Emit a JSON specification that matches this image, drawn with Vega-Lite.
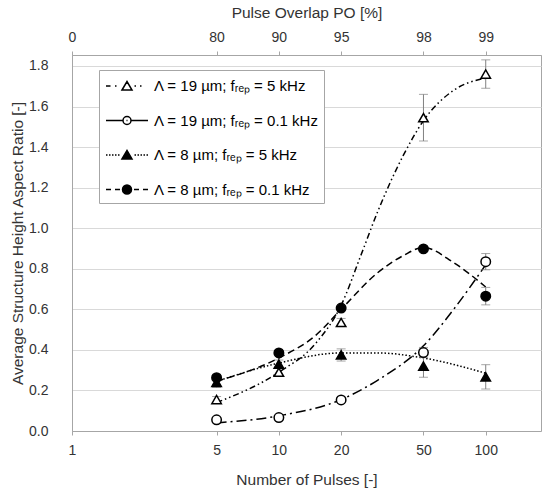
{
  "$schema": "https://vega.github.io/schema/vega-lite/v6.json",
  "width": 469,
  "height": 376,
  "autosize": {"type": "none"},
  "padding": {"left": 72, "top": 55, "right": 9, "bottom": 63},
  "background": "white",
  "config": {
    "font": "Liberation Sans",
    "view": {"stroke": "#a6a6a6", "strokeWidth": 1},
    "axis": {
      "labelFont": "Liberation Sans",
      "titleFont": "Liberation Sans",
      "labelFontSize": 14,
      "titleFontSize": 15.5,
      "titleFontWeight": "normal",
      "labelColor": "#333333",
      "titleColor": "#333333",
      "domainColor": "#a6a6a6",
      "tickColor": "#a6a6a6",
      "gridColor": "#d9d9d9"
    },
    "legend": {
      "title": null,
      "orient": "none",
      "legendX": 27,
      "legendY": 15,
      "padding": 5,
      "strokeColor": "#a6a6a6",
      "fillColor": "white",
      "symbolSize": 400,
      "symbolStrokeWidth": 1.5,
      "symbolStrokeColor": "black",
      "symbolOffset": 12,
      "labelOffset": 16,
      "labelFont": "Liberation Sans",
      "labelFontSize": 15,
      "labelColor": "black",
      "labelLimit": 300,
      "rowPadding": 15.5
    }
  },
  "datasets": {
    "points": [
      {"series": "Λ = 19 µm; fᵣₑₚ = 5 kHz", "N": 5, "v": 0.155, "err": 0.015},
      {"series": "Λ = 19 µm; fᵣₑₚ = 5 kHz", "N": 10, "v": 0.29, "err": 0.02},
      {"series": "Λ = 19 µm; fᵣₑₚ = 5 kHz", "N": 20, "v": 0.535, "err": 0.02},
      {"series": "Λ = 19 µm; fᵣₑₚ = 5 kHz", "N": 50, "v": 1.545, "err": 0.115},
      {"series": "Λ = 19 µm; fᵣₑₚ = 5 kHz", "N": 100, "v": 1.76, "err": 0.07},
      {"series": "Λ = 19 µm; fᵣₑₚ = 0.1 kHz", "N": 5, "v": 0.055, "err": 0.01},
      {"series": "Λ = 19 µm; fᵣₑₚ = 0.1 kHz", "N": 10, "v": 0.066, "err": 0.01},
      {"series": "Λ = 19 µm; fᵣₑₚ = 0.1 kHz", "N": 20, "v": 0.153, "err": 0.01},
      {"series": "Λ = 19 µm; fᵣₑₚ = 0.1 kHz", "N": 50, "v": 0.387, "err": 0.025},
      {"series": "Λ = 19 µm; fᵣₑₚ = 0.1 kHz", "N": 100, "v": 0.835, "err": 0.04},
      {"series": "Λ = 8 µm; fᵣₑₚ = 5 kHz", "N": 5, "v": 0.24, "err": 0.025},
      {"series": "Λ = 8 µm; fᵣₑₚ = 5 kHz", "N": 10, "v": 0.33, "err": 0.02},
      {"series": "Λ = 8 µm; fᵣₑₚ = 5 kHz", "N": 20, "v": 0.375, "err": 0.03},
      {"series": "Λ = 8 µm; fᵣₑₚ = 5 kHz", "N": 50, "v": 0.32, "err": 0.055},
      {"series": "Λ = 8 µm; fᵣₑₚ = 5 kHz", "N": 100, "v": 0.267, "err": 0.06},
      {"series": "Λ = 8 µm; fᵣₑₚ = 0.1 kHz", "N": 5, "v": 0.263, "err": 0.01},
      {"series": "Λ = 8 µm; fᵣₑₚ = 0.1 kHz", "N": 10, "v": 0.385, "err": 0.01},
      {"series": "Λ = 8 µm; fᵣₑₚ = 0.1 kHz", "N": 20, "v": 0.606, "err": 0.01},
      {"series": "Λ = 8 µm; fᵣₑₚ = 0.1 kHz", "N": 50, "v": 0.898, "err": 0.01},
      {"series": "Λ = 8 µm; fᵣₑₚ = 0.1 kHz", "N": 100, "v": 0.665, "err": 0.043}
    ],
    "trend": [
      {"series": "Λ = 19 µm; fᵣₑₚ = 5 kHz", "N": 5, "v": 0.14},
      {"series": "Λ = 19 µm; fᵣₑₚ = 5 kHz", "N": 10, "v": 0.29},
      {"series": "Λ = 19 µm; fᵣₑₚ = 5 kHz", "N": 15, "v": 0.43},
      {"series": "Λ = 19 µm; fᵣₑₚ = 5 kHz", "N": 20, "v": 0.62},
      {"series": "Λ = 19 µm; fᵣₑₚ = 5 kHz", "N": 25, "v": 0.87},
      {"series": "Λ = 19 µm; fᵣₑₚ = 5 kHz", "N": 30, "v": 1.08},
      {"series": "Λ = 19 µm; fᵣₑₚ = 5 kHz", "N": 40, "v": 1.36},
      {"series": "Λ = 19 µm; fᵣₑₚ = 5 kHz", "N": 50, "v": 1.53},
      {"series": "Λ = 19 µm; fᵣₑₚ = 5 kHz", "N": 70, "v": 1.68},
      {"series": "Λ = 19 µm; fᵣₑₚ = 5 kHz", "N": 100, "v": 1.74},
      {"series": "Λ = 19 µm; fᵣₑₚ = 0.1 kHz", "N": 5, "v": 0.04},
      {"series": "Λ = 19 µm; fᵣₑₚ = 0.1 kHz", "N": 10, "v": 0.075},
      {"series": "Λ = 19 µm; fᵣₑₚ = 0.1 kHz", "N": 20, "v": 0.155},
      {"series": "Λ = 19 µm; fᵣₑₚ = 0.1 kHz", "N": 30, "v": 0.25},
      {"series": "Λ = 19 µm; fᵣₑₚ = 0.1 kHz", "N": 50, "v": 0.42},
      {"series": "Λ = 19 µm; fᵣₑₚ = 0.1 kHz", "N": 70, "v": 0.6},
      {"series": "Λ = 19 µm; fᵣₑₚ = 0.1 kHz", "N": 100, "v": 0.82},
      {"series": "Λ = 8 µm; fᵣₑₚ = 5 kHz", "N": 5, "v": 0.245},
      {"series": "Λ = 8 µm; fᵣₑₚ = 5 kHz", "N": 10, "v": 0.335},
      {"series": "Λ = 8 µm; fᵣₑₚ = 5 kHz", "N": 20, "v": 0.385},
      {"series": "Λ = 8 µm; fᵣₑₚ = 5 kHz", "N": 30, "v": 0.385},
      {"series": "Λ = 8 µm; fᵣₑₚ = 5 kHz", "N": 50, "v": 0.36},
      {"series": "Λ = 8 µm; fᵣₑₚ = 5 kHz", "N": 100, "v": 0.285},
      {"series": "Λ = 8 µm; fᵣₑₚ = 0.1 kHz", "N": 5, "v": 0.245},
      {"series": "Λ = 8 µm; fᵣₑₚ = 0.1 kHz", "N": 10, "v": 0.36},
      {"series": "Λ = 8 µm; fᵣₑₚ = 0.1 kHz", "N": 15, "v": 0.47},
      {"series": "Λ = 8 µm; fᵣₑₚ = 0.1 kHz", "N": 20, "v": 0.6},
      {"series": "Λ = 8 µm; fᵣₑₚ = 0.1 kHz", "N": 30, "v": 0.78},
      {"series": "Λ = 8 µm; fᵣₑₚ = 0.1 kHz", "N": 40, "v": 0.865},
      {"series": "Λ = 8 µm; fᵣₑₚ = 0.1 kHz", "N": 50, "v": 0.905},
      {"series": "Λ = 8 µm; fᵣₑₚ = 0.1 kHz", "N": 70, "v": 0.83},
      {"series": "Λ = 8 µm; fᵣₑₚ = 0.1 kHz", "N": 100, "v": 0.71}
    ]
  },
  "resolve": {
    "scale": {"shape": "independent", "fill": "independent", "stroke": "independent"},
    "axis": {"x": "independent", "y": "independent"}
  },
  "layer": [
    {
      "data": {"name": "trend"},
      "mark": {"type": "line", "interpolate": "monotone", "stroke": "black", "strokeWidth": 1.5},
      "encoding": {
        "x": {
          "field": "N", "type": "quantitative",
          "scale": {"type": "log", "domain": [1, 185], "nice": false},
          "axis": {
            "orient": "bottom", "values": [1, 5, 10, 20, 50, 100], "grid": false,
            "tickSize": 4, "labelPadding": 8, "labelFlush": false,
            "title": "Number of Pulses [-]", "titlePadding": 15
          }
        },
        "y": {
          "field": "v", "type": "quantitative",
          "scale": {"domain": [0, 1.854], "nice": false, "zero": false},
          "axis": {
            "values": [0, 0.2, 0.4, 0.6, 0.8, 1.0, 1.2, 1.4, 1.6, 1.8], "format": ".1f",
            "tickSize": 0, "labelPadding": 24, "labelFlush": false,
            "title": "Average Structure Height Aspect Ratio [-]", "titlePadding": 3
          }
        },
        "strokeDash": {
          "field": "series", "type": "nominal",
          "scale": {
            "domain": ["Λ = 19 µm; fᵣₑₚ = 5 kHz", "Λ = 19 µm; fᵣₑₚ = 0.1 kHz", "Λ = 8 µm; fᵣₑₚ = 5 kHz", "Λ = 8 µm; fᵣₑₚ = 0.1 kHz"],
            "range": [[6, 3, 1.5, 3, 1.5, 3], [10, 4, 2, 4], [1.5, 2], [7, 4]]
          },
          "legend": null
        }
      }
    },
    {
      "data": {"name": "points"},
      "mark": {
        "type": "errorbar",
        "rule": {"color": "#808080", "strokeWidth": 1},
        "ticks": {"size": 9, "color": "#808080", "strokeWidth": 1}
      },
      "encoding": {
        "x": {"field": "N", "type": "quantitative", "axis": null},
        "y": {"field": "v", "type": "quantitative", "axis": null},
        "yError": {"field": "err"}
      }
    },
    {
      "data": {"name": "points"},
      "mark": {"type": "point", "filled": true, "opacity": 1, "stroke": "black", "strokeWidth": 1.5, "size": 90},
      "encoding": {
        "x": {"field": "N", "type": "quantitative", "axis": null},
        "y": {"field": "v", "type": "quantitative", "axis": null},
        "shape": {
          "field": "series", "type": "nominal",
          "scale": {
            "domain": ["Λ = 19 µm; fᵣₑₚ = 5 kHz", "Λ = 19 µm; fᵣₑₚ = 0.1 kHz", "Λ = 8 µm; fᵣₑₚ = 5 kHz", "Λ = 8 µm; fᵣₑₚ = 0.1 kHz"],
            "range": ["triangle-up", "circle", "triangle-up", "circle"]
          },
          "legend": null
        },
        "fill": {
          "field": "series", "type": "nominal",
          "scale": {
            "domain": ["Λ = 19 µm; fᵣₑₚ = 5 kHz", "Λ = 19 µm; fᵣₑₚ = 0.1 kHz", "Λ = 8 µm; fᵣₑₚ = 5 kHz", "Λ = 8 µm; fᵣₑₚ = 0.1 kHz"],
            "range": ["white", "white", "black", "black"]
          },
          "legend": null
        }
      }
    },
    {
      "data": {"name": "points"},
      "mark": {"type": "point", "filled": true, "opacity": 1, "clip": true, "strokeWidth": 1.5, "size": 400},
      "encoding": {
        "x": {
          "field": "N", "type": "quantitative",
          "axis": {
            "orient": "top", "values": [1, 5, 10, 20, 50, 100], "grid": false,
            "labelExpr": "format(100 - 100 / datum.value, 'd')",
            "tickSize": 4, "labelPadding": 7, "labelFlush": false,
            "title": "Pulse Overlap PO [%]", "titlePadding": 10
          }
        },
        "y": {"datum": -1, "type": "quantitative", "axis": null},
        "shape": {
          "field": "series", "type": "nominal",
          "scale": {
            "domain": ["Λ = 19 µm; fᵣₑₚ = 5 kHz", "Λ = 19 µm; fᵣₑₚ = 0.1 kHz", "Λ = 8 µm; fᵣₑₚ = 5 kHz", "Λ = 8 µm; fᵣₑₚ = 0.1 kHz"],
            "range": [
              "M-2.1,0H-1.65M-1.2,0H-1.05M0.75,0H0.9M1.3,0H1.45M-0.5,0.4L0,-0.45L0.5,0.4Z",
              "M-2.1,0H-0.4M0.4,0H2.1M-0.05,0H0.05M-0.4,0A0.4,0.4,0,1,0,0.4,0A0.4,0.4,0,1,0,-0.4,0Z",
              "M-2.1,0H-1.95M-1.8,0H-1.65M-1.5,0H-1.35M-1.2,0H-1.05M-0.9,0H-0.75M0.75,0H0.9M1.05,0H1.2M1.35,0H1.5M1.65,0H1.8M1.95,0H2.1M-0.5,0.4L0,-0.45L0.5,0.4Z",
              "M-2.1,0H-1.6M-1.2,0H-0.7M0.7,0H1.2M1.6,0H2.1M-0.45,0A0.45,0.45,0,1,0,0.45,0A0.45,0.45,0,1,0,-0.45,0Z"
            ]
          }
        },
        "fill": {
          "field": "series", "type": "nominal",
          "scale": {
            "domain": ["Λ = 19 µm; fᵣₑₚ = 5 kHz", "Λ = 19 µm; fᵣₑₚ = 0.1 kHz", "Λ = 8 µm; fᵣₑₚ = 5 kHz", "Λ = 8 µm; fᵣₑₚ = 0.1 kHz"],
            "range": ["white", "white", "black", "black"]
          }
        },
        "stroke": {
          "field": "series", "type": "nominal",
          "scale": {
            "domain": ["Λ = 19 µm; fᵣₑₚ = 5 kHz", "Λ = 19 µm; fᵣₑₚ = 0.1 kHz", "Λ = 8 µm; fᵣₑₚ = 5 kHz", "Λ = 8 µm; fᵣₑₚ = 0.1 kHz"],
            "range": ["black", "black", "black", "black"]
          }
        }
      }
    }
  ]
}
